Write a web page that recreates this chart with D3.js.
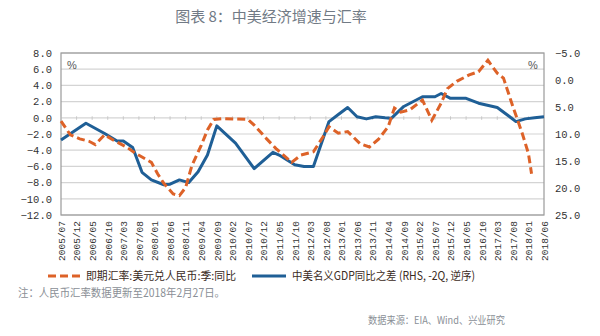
<!DOCTYPE html>
<html><head><meta charset="utf-8">
<script src="https://cdn.jsdelivr.net/npm/d3@7"></script>
<style>
body{margin:0;background:#fff;}
svg{display:block;}
</style></head>
<body>
<svg id="c" width="600" height="336"></svg>
<script>
// ---- data ----
const xTickLabels = ["2005/07","2005/12","2006/05","2006/10","2007/03","2007/08","2008/01","2008/06","2008/11","2009/04","2009/09","2010/02","2010/07","2010/12","2011/05","2011/10","2012/03","2012/08","2013/01","2013/06","2013/11","2014/04","2014/09","2015/02","2015/07","2015/12","2016/05","2016/10","2017/03","2017/08","2018/01","2018/06"];
const leftTicks = [8,6,4,2,0,-2,-4,-6,-8,-10,-12];
const rightTicks = [-5,0,5,10,15,20,25];

const fxDates = ["2005/07","2005/10","2006/01","2006/04","2006/06","2006/09","2006/12","2007/04","2007/07","2007/12","2008/02","2008/04","2008/07","2008/09","2008/11","2009/01","2009/04","2009/06","2009/08","2009/11","2010/07","2010/09","2011/01","2011/04","2011/09","2011/12","2012/04","2012/07","2012/09","2012/12","2013/03","2013/07","2013/10","2014/01","2014/04","2014/06","2014/08","2014/11","2015/03","2015/06","2015/09","2015/11","2016/02","2016/06","2016/09","2016/12","2017/03","2017/05","2017/08","2017/11","2018/01","2018/02"];
const fxYoY = [-0.4,-2.1,-2.6,-2.9,-3.3,-2.1,-2.8,-3.6,-4.4,-5.5,-6.9,-8.1,-9.4,-9.6,-8.6,-5.9,-3.4,-1.5,-0.2,-0.1,-0.2,-0.9,-2.6,-3.8,-5.5,-4.6,-4.2,-2.4,-1.1,-1.9,-1.7,-3.2,-3.6,-2.6,-1.1,1.2,0.7,1.0,2.2,-0.3,1.8,3.6,4.5,5.3,5.7,7.1,5.5,4.9,1.4,-1.9,-4.4,-6.9];

const gdpDates = ["2005/07","2006/03","2006/09","2007/01","2007/03","2007/06","2007/09","2007/12","2008/04","2008/06","2008/09","2008/12","2009/03","2009/06","2009/09","2010/03","2010/09","2011/03","2011/05","2011/10","2012/01","2012/04","2012/09","2012/12","2013/03","2013/06","2013/09","2013/12","2014/03","2014/05","2014/09","2015/03","2015/07","2015/09","2015/12","2016/05","2016/09","2017/03","2017/07","2017/09","2017/12","2018/03","2018/06"];
const gdpDiff = [11.1,8.0,9.9,11.3,11.3,12.5,17.1,18.5,19.4,19.3,18.5,19.0,17.0,13.9,8.5,11.7,16.4,13.4,13.9,15.7,16.0,16.0,7.7,6.4,5.1,6.8,7.2,6.8,7.0,7.1,4.9,3.1,3.1,2.5,3.4,3.4,4.3,5.1,6.8,7.7,7.2,7.0,6.8];

const title = "图表 8：中美经济增速与汇率";
const legendFx = "即期汇率:美元兑人民币:季:同比";
const legendGdp = "中美名义GDP同比之差 (RHS, -2Q, 逆序)";
const note = "注：人民币汇率数据更新至2018年2月27日。";
const source = "数据来源：EIA、Wind、兴业研究";

// ---- helpers ----
const monthIdx = s => { const [y,m] = s.split("/").map(Number); return (y-2005)*12 + (m-7); };

const svg = d3.select("#c");
const L = 61, R = 544, T = 53, B = 215;
const x = d3.scaleLinear().domain([0,155]).range([L,R]);
const yL = d3.scaleLinear().domain([-12,8]).range([B,T]);
const yR = d3.scaleLinear().domain([-5,25]).range([T,B]);
const fmt = d3.format(".1f");
const mono = "'Liberation Mono','DejaVu Sans Mono',monospace";
const cjk = "'Noto Sans CJK SC','Noto Sans',sans-serif";

// title
svg.append("text").attr("x",271).attr("y",22).attr("text-anchor","middle")
  .attr("font-family",cjk).attr("font-size",15).attr("fill","#717a85").text(title);

// gridlines
svg.append("g").selectAll("line").data(leftTicks).join("line")
  .attr("x1",L).attr("x2",R).attr("y1",d=>yL(d)).attr("y2",d=>yL(d))
  .attr("stroke","#d4d4d4").attr("stroke-width",1.2);

// plot border
svg.append("rect").attr("x",L).attr("y",T).attr("width",R-L).attr("height",B-T)
  .attr("fill","none").attr("stroke","#9a9a9a").attr("stroke-width",1.2);

// small ticks on zero line
svg.append("g").selectAll("line").data(xTickLabels).join("line")
  .attr("x1",d=>x(monthIdx(d))).attr("x2",d=>x(monthIdx(d)))
  .attr("y1",yL(0)-1.5).attr("y2",yL(0)+2)
  .attr("stroke","#c8c8c8").attr("stroke-width",1);

// left axis
const axL = svg.append("g").attr("transform",`translate(${L},0)`)
  .call(d3.axisLeft(yL).tickValues(leftTicks).tickFormat(fmt).tickSize(0).tickPadding(9));
axL.select(".domain").remove();
axL.selectAll("text").attr("font-family",mono).attr("font-size",10.5).attr("fill","#333");

// right axis
const axR = svg.append("g").attr("transform",`translate(${R},0)`)
  .call(d3.axisRight(yR).tickValues(rightTicks).tickFormat(fmt).tickSize(0).tickPadding(11));
axR.select(".domain").remove();
axR.selectAll("text").attr("font-family",mono).attr("font-size",10.5).attr("fill","#333");

// bottom axis labels
const axB = svg.append("g").attr("transform",`translate(0,${B})`)
  .call(d3.axisBottom(x).tickValues(xTickLabels.map(monthIdx))
    .tickFormat((d,i)=>xTickLabels[i]).tickSize(0));
axB.select(".domain").remove();
axB.selectAll("text").attr("font-family",mono).attr("font-size",9.5).attr("fill","#333")
  .attr("text-anchor","end").attr("dy","0.35em")
  .attr("transform","translate(0,6) rotate(-90)").attr("x",0).attr("y",0);

// % labels
svg.append("text").attr("x",67).attr("y",69).attr("font-family","'Liberation Sans',sans-serif")
  .attr("font-size",11).attr("fill","#555").text("%");
svg.append("text").attr("x",528).attr("y",69).attr("font-family","'Liberation Sans',sans-serif")
  .attr("font-size",11).attr("fill","#555").text("%");

// lines
const gdpLine = d3.line().x((d,i)=>x(monthIdx(gdpDates[i]))).y(d=>yR(d));
svg.append("path").datum(gdpDiff).attr("d",gdpLine).attr("fill","none")
  .attr("stroke","#1f5f96").attr("stroke-width",3).attr("stroke-linejoin","round");

const fxLine = d3.line().x((d,i)=>x(monthIdx(fxDates[i]))).y(d=>yL(d));
svg.append("path").datum(fxYoY).attr("d",fxLine).attr("fill","none")
  .attr("stroke","#dd6228").attr("stroke-width",3).attr("stroke-dasharray","8,4");

// legend
const ly = 276;
svg.append("line").attr("x1",48).attr("x2",80).attr("y1",ly).attr("y2",ly)
  .attr("stroke","#dd6228").attr("stroke-width",3).attr("stroke-dasharray","8,4");
svg.append("text").attr("x",86).attr("y",ly+4).attr("font-family",cjk).attr("font-size",11.5)
  .attr("fill","#3a2a22").attr("textLength",150).attr("lengthAdjust","spacingAndGlyphs").text(legendFx);
svg.append("line").attr("x1",252).attr("x2",286).attr("y1",ly).attr("y2",ly)
  .attr("stroke","#1f5f96").attr("stroke-width",3);
svg.append("text").attr("x",292).attr("y",ly+4).attr("font-family",cjk).attr("font-size",11.5)
  .attr("fill","#3a2a22").attr("textLength",183).attr("lengthAdjust","spacingAndGlyphs").text(legendGdp);

// notes
svg.append("text").attr("x",18).attr("y",297).attr("font-family",cjk).attr("font-size",11.5)
  .attr("fill","#8a8f96").attr("textLength",207).attr("lengthAdjust","spacingAndGlyphs").text(note);
svg.append("text").attr("x",505).attr("y",324).attr("text-anchor","end").attr("font-family",cjk)
  .attr("font-size",10).attr("fill","#8a8f96").attr("textLength",137).attr("lengthAdjust","spacingAndGlyphs").text(source);
</script>
</body></html>
